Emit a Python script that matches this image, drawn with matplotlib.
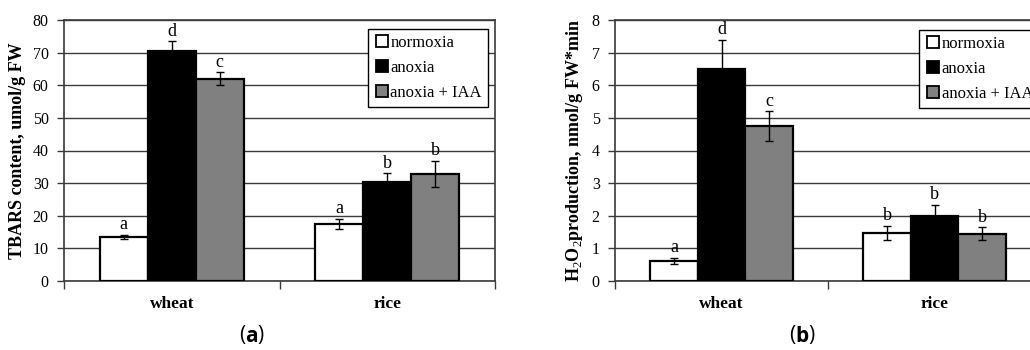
import matplotlib.pyplot as plt
import numpy as np
from matplotlib.lines import Line2D

# ==========================================
# 数据
# ==========================================
crops = ["wheat", "rice"]
treatments = ["normoxia", "anoxia", "anoxia + IAA"]
bar_colors = ["white", "black", "#808080"]

tbars_mean = [[13.5, 17.5], [70.5, 30.2], [62.0, 32.8]]
tbars_err = [[0.7, 1.5], [3.0, 2.8], [2.0, 4.0]]
tbars_letters = [["a", "a"], ["d", "b"], ["c", "b"]]

h2o2_mean = [[0.62, 1.48], [6.5, 2.0], [4.75, 1.45]]
h2o2_err = [[0.1, 0.22], [0.9, 0.33], [0.45, 0.2]]
h2o2_letters = [["a", "b"], ["d", "b"], ["c", "b"]]

serif = ["Liberation Serif", "DejaVu Serif"]
plt.rcParams['font.family'] = serif
plt.rcParams['mathtext.fontset'] = 'custom'
plt.rcParams['mathtext.rm'] = 'Liberation Serif'
plt.rcParams['mathtext.bf'] = 'Liberation Serif:bold'


def draw_panel(ax, means, errs, letters, ymax, ystep, ylabel, legend_xy):
    x = np.arange(len(crops))
    w = 0.223
    for i, (m, e, lab, c) in enumerate(zip(means, errs, letters, bar_colors)):
        pos = x + (i - 1) * w
        ax.bar(pos, m, w, color=c, edgecolor="black", linewidth=1.6, zorder=3)
        ax.errorbar(pos, m, yerr=e, fmt="none", ecolor="black", elinewidth=1.0,
                    capsize=3, capthick=1.0, zorder=4)
        for p, mm, ee, t in zip(pos, m, e, lab):
            ax.text(p, mm + ee + ymax * 0.006, t, ha="center", va="bottom",
                    fontsize=13, zorder=5)
    ax.set_xlim(-0.5, 1.5)
    ax.set_ylim(0, ymax)
    ax.set_yticks(np.arange(0, ymax + ystep / 2, ystep))
    ax.yaxis.grid(True, color="#3a3a3a", linewidth=1.0, zorder=0)
    ax.set_axisbelow(True)
    ax.set_xticks(x)
    ax.set_xticklabels(crops, fontweight="bold", fontsize=12.5)
    ax.tick_params(axis="x", length=0, pad=11)
    ax.tick_params(axis="y", length=5, width=1, color="#3a3a3a", labelsize=11.5, pad=6)
    # 类别分隔刻度
    ax.set_xticks([-0.5, 0.5, 1.5], minor=True)
    ax.tick_params(axis="x", which="minor", length=6, width=1, color="#3a3a3a")
    for s in ax.spines.values():
        s.set_color("#3a3a3a")
        s.set_linewidth(1.2)
    ax.set_ylabel(ylabel, fontweight="bold", fontsize=13, labelpad=5)

    handles = [Line2D([], [], marker="s", linestyle="none", markersize=9,
                      markerfacecolor=c, markeredgecolor="black", markeredgewidth=1.3)
               for c in bar_colors]
    leg = ax.legend(handles, treatments, loc="upper left", bbox_to_anchor=legend_xy,
                    borderaxespad=0, fancybox=False, framealpha=1, edgecolor="black",
                    fontsize=12, handletextpad=0.0, handlelength=1.0,
                    labelspacing=0.55, borderpad=0.35)
    leg.get_frame().set_linewidth(1.0)
    leg.set_zorder(6)


fig = plt.figure(figsize=(10.3, 3.5), dpi=100)
ax1 = fig.add_axes([64 / 1030, 69 / 350, 431 / 1030, 261 / 350])
ax2 = fig.add_axes([615 / 1030, 69 / 350, 426 / 1030, 261 / 350])

draw_panel(ax1, tbars_mean, tbars_err, tbars_letters, 80, 10,
           "TBARS content, umol/g FW", (0.705, 0.966))
draw_panel(ax2, h2o2_mean, h2o2_err, h2o2_letters, 8, 1,
           "H$_2$O$_2$production, nmol/g FW*min", (0.714, 0.962))

fig.text(245 / 1030, 1 - 336 / 350, "(", ha="right", va="center", fontsize=15,
         family="Open Sans")
fig.text(245 / 1030, 1 - 336 / 350, "a", ha="left", va="center", fontsize=15,
         family="Open Sans", fontweight="bold")
fig.text(257 / 1030, 1 - 336 / 350, ")", ha="left", va="center", fontsize=15,
         family="Open Sans")
fig.text(795 / 1030, 1 - 336 / 350, "(", ha="right", va="center", fontsize=15,
         family="Open Sans")
fig.text(795 / 1030, 1 - 336 / 350, "b", ha="left", va="center", fontsize=15,
         family="Open Sans", fontweight="bold")
fig.text(808 / 1030, 1 - 336 / 350, ")", ha="left", va="center", fontsize=15,
         family="Open Sans")

fig.savefig("out.png", dpi=100)
